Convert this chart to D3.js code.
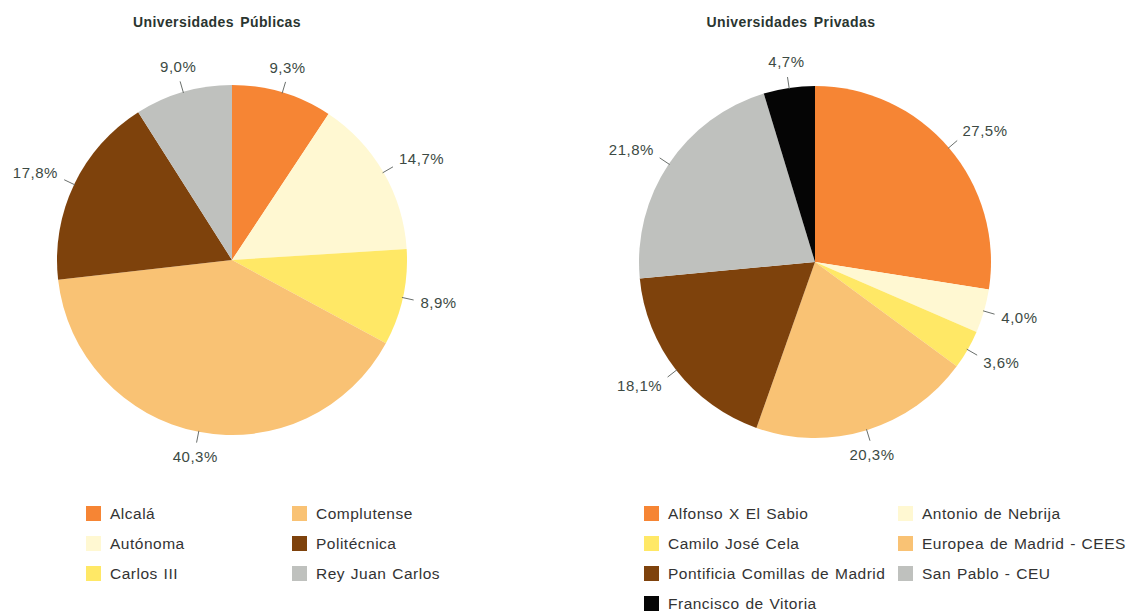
<!DOCTYPE html>
<html>
<meta charset="utf-8">
<head>
  <title>Universidades Públicas y Privadas</title>
</head>

<style>
body { margin: 0; background: #fff; }
text { font-family: "Liberation Sans", Arial, sans-serif; }
.title { font-weight: bold; font-size: 14px; fill: #2a3530; word-spacing: 2px; letter-spacing: 0.4px; }
.pct { font-size: 15px; fill: #3c4a44; letter-spacing: 0.5px; }
.leg { font-size: 15.5px; fill: #333; letter-spacing: 0.5px; word-spacing: 1px; }
</style>

<body>
  <svg width="1130" height="611"></svg>

<script src="https://cdn.jsdelivr.net/npm/d3@7"></script>
<script>
// public universities (clockwise from 12 o'clock)
var pubNames = ['Alcalá', 'Autónoma', 'Carlos III', 'Complutense', 'Politécnica', 'Rey Juan Carlos']
var pubValues = [9.3, 14.7, 8.9, 40.3, 17.8, 9.0]
var pubColors = ['#f68534', '#fff8d2', '#ffe866', '#f9c274', '#7e420c', '#bfc1be']

// private universities
var privNames = ['Alfonso X El Sabio', 'Antonio de Nebrija', 'Camilo José Cela',
  'Europea de Madrid - CEES', 'Pontificia Comillas de Madrid', 'San Pablo - CEU', 'Francisco de Vitoria']
var privValues = [27.5, 4.0, 3.6, 20.3, 18.1, 21.8, 4.7]
var privColors = ['#f68534', '#fff8d2', '#ffe866', '#f9c274', '#7e420c', '#bfc1be', '#050505']

var svg = d3.select('svg')
var fmt = function(v) { return v.toFixed(1).replace('.', ',') + '%' }

function drawPie(opt) {
  var data = opt.values.map(function(v, i) { return {name: opt.names[i], value: v, color: opt.colors[i]} })
  var pie = d3.pie().sort(null).value(function(d) { return d.value })
  var arc = d3.arc().innerRadius(0).outerRadius(opt.r)
  var arcs = pie(data)

  var g = svg.append('g').attr('transform', 'translate(' + opt.cx + ',' + opt.cy + ')')

  g.selectAll('path')
    .data(arcs)
    .enter()
    .append('path')
    .attr('d', arc)
    .attr('fill', function(d) { return d.data.color })

  // leader ticks + labels
  arcs.forEach(function(d) {
    var a = (d.startAngle + d.endAngle) / 2
    var s = Math.sin(a), c = Math.cos(a)
    g.append('line')
      .attr('x1', s * (opt.r - 1)).attr('y1', -c * (opt.r - 1))
      .attr('x2', s * (opt.r + 11)).attr('y2', -c * (opt.r + 11))
      .attr('stroke', '#6a6f6c').attr('stroke-width', 1)
    var p = opt.r + 18
    var anchor = s > 0.35 ? 'start' : (s < -0.35 ? 'end' : 'middle')
    g.append('text')
      .attr('class', 'pct')
      .attr('x', s * p)
      .attr('y', -c * p - c * 8 + 5)
      .attr('text-anchor', anchor)
      .text(fmt(d.data.value))
  })

  svg.append('text')
    .attr('class', 'title')
    .attr('x', opt.titleX).attr('y', 27)
    .attr('text-anchor', 'middle')
    .text(opt.title)

  // legend: two columns
  var leg = svg.append('g')
  data.forEach(function(d, i) {
    var col = opt.legendByRow ? i % 2 : Math.floor(i / 3)
    var row = opt.legendByRow ? Math.floor(i / 2) : i % 3
    var x = opt.legX[col], y = opt.legY + row * 30
    leg.append('rect')
      .attr('x', x).attr('y', y - 7)
      .attr('width', 15).attr('height', 15)
      .attr('fill', d.color)
    leg.append('text')
      .attr('class', 'leg')
      .attr('x', x + 24).attr('y', y + 5.5)
      .text(d.name)
  })
}

drawPie({
  names: pubNames, values: pubValues, colors: pubColors,
  cx: 232, cy: 260, r: 175,
  title: 'Universidades Públicas', titleX: 217,
  legX: [86, 292], legY: 513, legendByRow: false
})

drawPie({
  names: privNames, values: privValues, colors: privColors,
  cx: 815, cy: 262, r: 176,
  title: 'Universidades Privadas', titleX: 791,
  legX: [644, 898], legY: 513, legendByRow: true
})
</script>
</body>
</html>
